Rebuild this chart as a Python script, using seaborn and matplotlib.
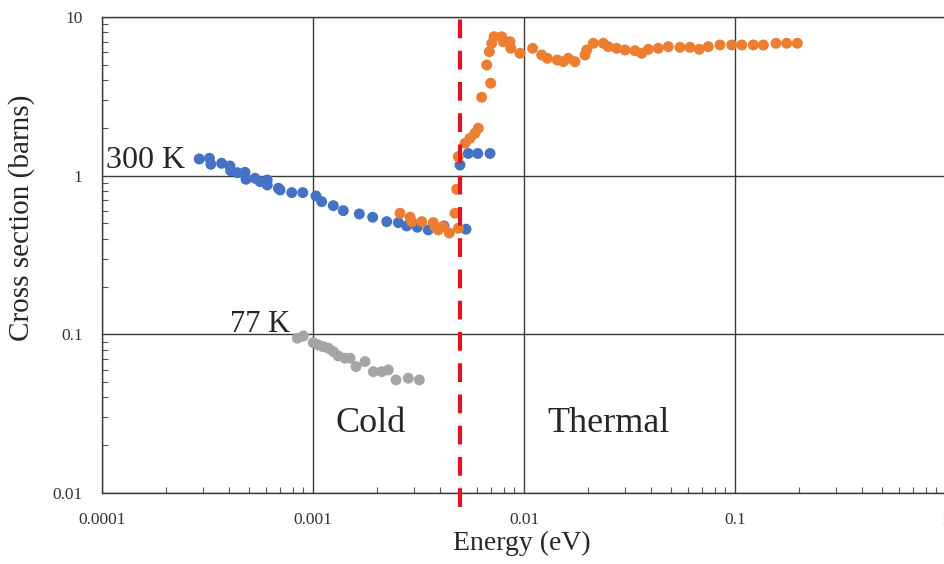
import numpy as np
import pandas as pd
import matplotlib
matplotlib.use("Agg")
import matplotlib.pyplot as plt
from matplotlib.ticker import FixedLocator, FixedFormatter, LogLocator, NullFormatter
import seaborn as sns

# --- data (energy in eV, cross section in barns) ---
e_300 = [0.000289, 0.000323, 0.000328, 0.000369, 0.000404, 0.000407, 0.000438,
         0.000476, 0.000481, 0.000531, 0.000561, 0.000607, 0.000607, 0.000685,
         0.000698, 0.000793, 0.000894, 0.001033, 0.001099, 0.001248, 0.001392,
         0.001658, 0.001918, 0.002235, 0.002537, 0.00278, 0.003121, 0.003519,
         0.004176, 0.005311, 0.004973, 0.005445, 0.006036, 0.006902]
xs_300 = [1.274, 1.287, 1.180, 1.197, 1.151, 1.075, 1.044, 1.050, 0.949, 0.963,
          0.917, 0.939, 0.874, 0.833, 0.813, 0.782, 0.782, 0.745, 0.686, 0.647,
          0.602, 0.574, 0.547, 0.513, 0.506, 0.482, 0.473, 0.455, 0.482, 0.460,
          1.168, 1.380, 1.380, 1.380]

e_orange = [0.002584, 0.002882, 0.002936, 0.003276, 0.003716, 0.003786, 0.003925,
            0.004144, 0.004426, 0.00471, 0.004882, 0.004797, 0.004882, 0.005253,
            0.005548, 0.005858, 0.006073, 0.006302, 0.006955, 0.006657, 0.006849,
            0.00703, 0.007208, 0.007838, 0.00798, 0.008583, 0.00866, 0.009572,
            0.01099, 0.01213, 0.0129, 0.01438, 0.01536, 0.01622, 0.01745, 0.01946,
            0.01983, 0.0213, 0.02375, 0.02509, 0.02749, 0.03012, 0.03358, 0.03613,
            0.03882, 0.0433, 0.0483, 0.05485, 0.06118, 0.06771, 0.07471, 0.0849,
            0.09647, 0.1076, 0.1221, 0.1362, 0.1564, 0.1758, 0.1973]
xs_orange = [0.580, 0.547, 0.513, 0.513, 0.506, 0.477, 0.455, 0.477, 0.435, 0.580,
             0.466, 0.821, 1.318, 1.600, 1.721, 1.850, 1.990, 3.119, 3.824, 4.983,
             6.043, 6.829, 7.511, 7.511, 6.989, 6.989, 6.349, 5.905, 6.349, 5.761,
             5.492, 5.358, 5.229, 5.492, 5.229, 5.761, 6.195, 6.829, 6.829, 6.500,
             6.349, 6.195, 6.132, 5.905, 6.258, 6.349, 6.500, 6.441, 6.441, 6.258,
             6.500, 6.664, 6.664, 6.664, 6.664, 6.664, 6.829, 6.829, 6.829]

e_77 = [0.000843, 0.000900, 0.001003, 0.00106, 0.001119, 0.001182, 0.001248,
        0.001318, 0.001418, 0.001498, 0.001599, 0.001764, 0.001931, 0.002117,
        0.002275, 0.002474, 0.002829, 0.00319]
xs_77 = [0.0945, 0.0977, 0.0886, 0.0857, 0.0836, 0.0818, 0.0778, 0.0731, 0.0707,
         0.0707, 0.0626, 0.0673, 0.0582, 0.0582, 0.0597, 0.0516, 0.0529, 0.0516]

cutoff_energy = 0.005

x_ticks = [0.0001, 0.001, 0.01, 0.1, 1]
x_tick_labels = ["0.0001", "0.001", "0.01", "0.1", "1"]
y_ticks = [0.01, 0.1, 1, 10]
y_tick_labels = ["0.01", "0.1", "1", "10"]

colors = {"300 K": "#4472C4", "orange": "#ED7D31", "77 K": "#A5A5A5"}

df = pd.concat([
    pd.DataFrame({"energy": e_300, "xs": xs_300, "series": "300 K"}),
    pd.DataFrame({"energy": e_orange, "xs": xs_orange, "series": "orange"}),
    pd.DataFrame({"energy": e_77, "xs": xs_77, "series": "77 K"}),
], ignore_index=True)

sns.set_theme(style="white")
plt.rcParams["font.family"] = ["Liberation Serif", "DejaVu Serif"]

W, H = 944, 564
fig = plt.figure(figsize=(W / 100, H / 100), dpi=100)
ax = fig.add_axes([102 / W, 71 / H, 844 / W, 476 / H])

sns.scatterplot(data=df, x="energy", y="xs", hue="series", palette=colors,
                s=62, linewidth=0, legend=False, ax=ax, zorder=3)

ax.set_xscale("log")
ax.set_yscale("log")
ax.set_xlim(1e-4, 1)
ax.set_ylim(0.01, 10)

ax.xaxis.set_major_locator(FixedLocator(x_ticks))
ax.xaxis.set_major_formatter(FixedFormatter(x_tick_labels))
ax.yaxis.set_major_locator(FixedLocator(y_ticks))
ax.yaxis.set_major_formatter(FixedFormatter(y_tick_labels))
for axis in (ax.xaxis, ax.yaxis):
    axis.set_minor_locator(LogLocator(base=10, subs=np.arange(2, 10)))
    axis.set_minor_formatter(NullFormatter())

ax.tick_params(which="major", direction="in", length=0, pad=14,
               labelsize=12.5, labelcolor="#333333")
ax.tick_params(which="minor", direction="in", length=4, width=0.8,
               color="#555555", left=True, bottom=True)

ax.grid(True, which="major", color="#3a3a3a", linewidth=1.0)
for sp in ax.spines.values():
    sp.set_color("#3a3a3a")
    sp.set_linewidth(1.0)

# cold / thermal boundary
ax.plot([cutoff_energy, cutoff_energy], [0.0082, 10], color="#E0141E", lw=3,
        linestyle=(0, (4.5, 3)), clip_on=False, zorder=4)

ax.set_xlabel("")
ax.set_ylabel("")
fig.text(522 / W, 1 - 550 / H, "Energy (eV)", ha="center", va="baseline", fontsize=20)
fig.text(22 / W, 1 - 218 / H, "Cross section (barns)", ha="center", va="center",
         rotation=90, fontsize=21)

ax.text(0.000104, 1.12, "300 K", fontsize=23, ha="left", va="baseline")
ax.text(0.000404, 0.104, "77 K", fontsize=22, ha="left", va="baseline")
ax.text(0.00188, 0.0243, "Cold", fontsize=26, ha="center", va="baseline")
ax.text(0.0253, 0.0243, "Thermal", fontsize=26, ha="center", va="baseline")

fig.savefig("out.png", dpi=100)
